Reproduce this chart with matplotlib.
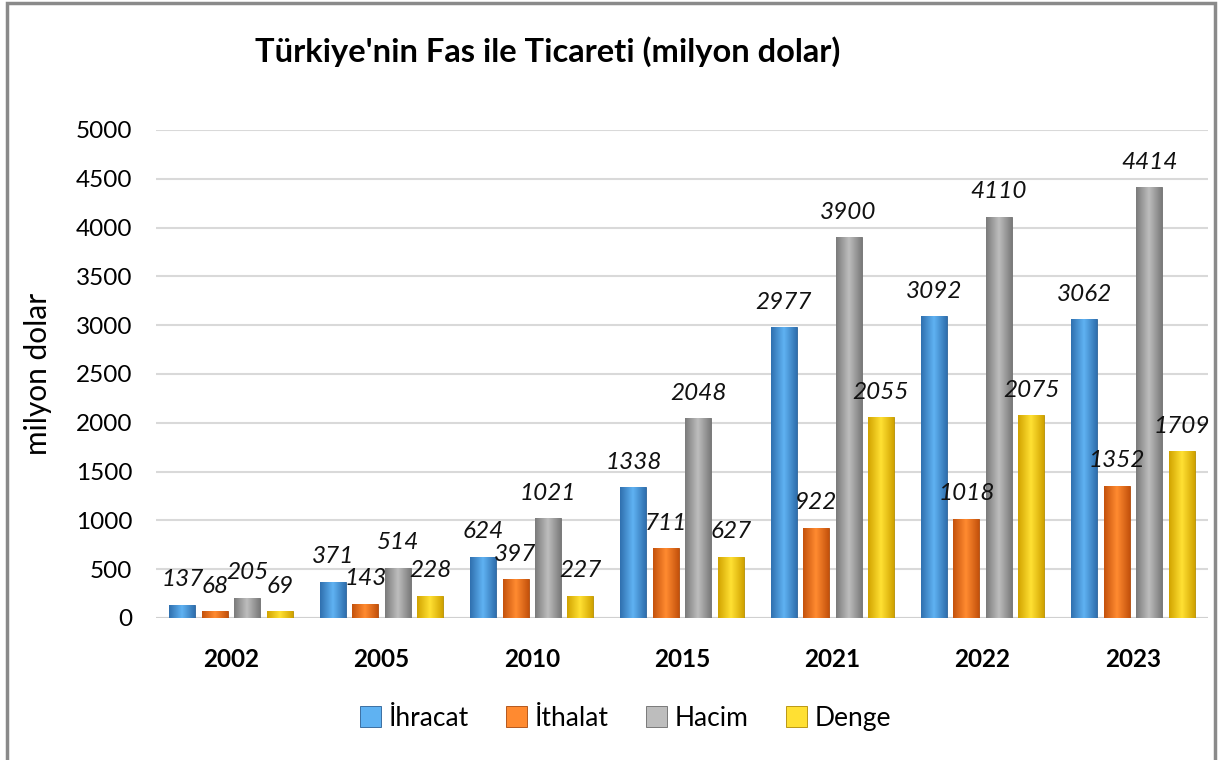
import numpy as np
import matplotlib
matplotlib.use("Agg")
import matplotlib.pyplot as plt
from matplotlib.colors import LinearSegmentedColormap
from matplotlib.patches import Rectangle

plt.rcParams['font.family'] = ['Lato', 'DejaVu Sans']

years = ['2002', '2005', '2010', '2015', '2021', '2022', '2023']
ihracat = [137, 371, 624, 1338, 2977, 3092, 3062]
ithalat = [68, 143, 397, 711, 922, 1018, 1352]
hacim = [205, 514, 1021, 2048, 3900, 4110, 4414]
denge = [69, 228, 227, 627, 2055, 2075, 1709]
series_names = ['İhracat', 'İthalat', 'Hacim', 'Denge']
series = [ihracat, ithalat, hacim, denge]
title = "Türkiye'nin Fas ile Ticareti (milyon dolar)"
ylabel = 'milyon dolar'
yticks = [0, 500, 1000, 1500, 2000, 2500, 3000, 3500, 4000, 4500, 5000]

# (edge/dark, light center, outline)
palettes = [
    ('#2f6fae', '#5fb2f2', '#2a5f94'),
    ('#c4520c', '#ff8a30', '#a8470b'),
    ('#7a7a7a', '#bdbdbd', '#6a6a6a'),
    ('#d1a300', '#ffe033', '#b08a00'),
]

fig = plt.figure(figsize=(12.19, 7.60), dpi=100)
ax = fig.add_axes([0.128, 0.187, 0.863, 0.642])

x = np.arange(len(years))
width = 0.173
pitch = 0.216
offsets = (np.arange(4) - 1.5) * pitch

grad = np.concatenate([np.linspace(0, 1, 50), np.linspace(1, 0, 50)]).reshape(1, -1)

for i, (vals, name) in enumerate(zip(series, series_names)):
    dark, light, outline = palettes[i]
    cmap = LinearSegmentedColormap.from_list('c%d' % i, [dark, light])
    bars = ax.bar(x + offsets[i], vals, width, color=light, edgecolor=outline,
                  linewidth=0.6, label=name, zorder=3)
    for rect, v in zip(bars, vals):
        x0, y0 = rect.get_x(), rect.get_y()
        w, h = rect.get_width(), rect.get_height()
        im = ax.imshow(grad, cmap=cmap, aspect='auto',
                       extent=(x0, x0 + w, y0, y0 + h), zorder=3.5,
                       interpolation='bilinear')
        im.set_clip_path(rect)
        ax.annotate(str(v), (x0 + w / 2, v), xytext=(0, 18),
                    textcoords='offset points', ha='center', va='center',
                    fontsize=17.5, fontstyle='italic', color='#111111', zorder=5)

ax.set_xlim(-0.5, len(years) - 0.5)
ax.set_ylim(0, 5000)
ax.set_yticks(yticks)
ax.set_yticklabels([str(t) for t in yticks], fontsize=17.5)
ax.set_xticks(x)
ax.set_xticklabels(years, fontsize=17.5, fontweight='bold')
ax.tick_params(axis='both', length=0)
ax.tick_params(axis='x', pad=22)
ax.tick_params(axis='y', pad=17)
ax.grid(axis='y', color='#d9d9d9', linewidth=1.5, zorder=0)
ax.set_axisbelow(True)
for s in ax.spines.values():
    s.set_visible(False)
ax.axhline(0, color='#d0d0d0', linewidth=1.5, zorder=2)

ax.set_ylabel(ylabel, fontsize=21.5, labelpad=17)

fig.text(0.449, 0.932, title, ha='center', va='center', fontsize=23.5,
         fontweight='bold')

leg = fig.legend(*ax.get_legend_handles_labels(), loc='center',
                 bbox_to_anchor=(0.513, 0.055), ncol=4, frameon=False,
                 fontsize=19, handlelength=0.8, handleheight=0.8,
                 handletextpad=0.3, columnspacing=1.4)

fig.patches.append(Rectangle((0.006, -0.02), 0.991, 1.016,
                             transform=fig.transFigure, fill=False,
                             edgecolor='#8a8a8a', linewidth=2.5))

fig.savefig('out.png', dpi=100)
